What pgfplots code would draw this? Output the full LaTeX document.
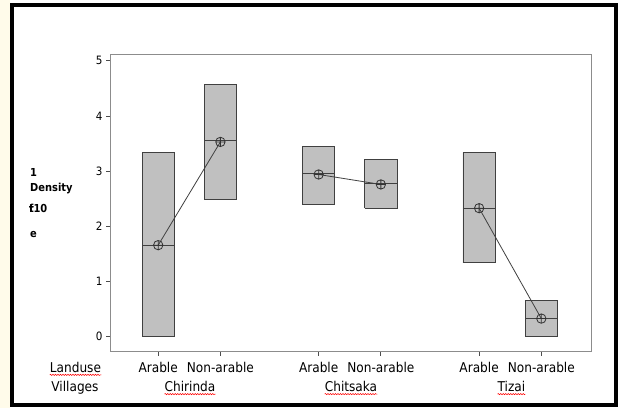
\documentclass[border=0pt]{standalone}
\usepackage{pgfplots}
\pgfplotsset{compat=1.18}
\usepackage{fontspec}
\setmainfont{DejaVu Sans Condensed}
\usetikzlibrary{decorations.pathmorphing}
\definecolor{boxfill}{RGB}{192,192,192}
\definecolor{boxedge}{RGB}{64,64,64}
\definecolor{axisgray}{RGB}{140,140,140}
\definecolor{strip}{RGB}{255,251,234}
\newcommand{\lab}{\fontsize{13.5}{16}\selectfont}
\newcommand{\ylab}{\bfseries\fontsize{11}{13}\selectfont}
\begin{document}
\begin{tikzpicture}[x=1pt,y=1pt]
\useasboundingbox (0,0) rectangle (620,408);
\fill[strip] (0,0) rectangle (10,408);
\fill[white] (10,0) rectangle (620,408);
\draw[line width=3.5pt] (12,3) rectangle (616,403);
\begin{axis}[
  at={(110pt,56.3pt)}, anchor=south west,
  width=481.7pt, height=297pt, scale only axis,
  xmin=-0.775, xmax=6.97, ymin=-0.27, ymax=5.11,
  axis line style={axisgray, line width=0.9pt},
  xtick pos=bottom, ytick pos=left,
  tick align=outside, major tick length=4pt,
  tick style={black!70, line width=0.8pt},
  ytick={0,1,2,3,4,5},
  xtick={0,1,2.58,3.58,5.16,6.16},
  xticklabels={Arable,Non-arable,Arable,Non-arable,Arable,Non-arable},
  xticklabel style={font=\lab, anchor=base, yshift=-16.6pt, inner sep=0pt},
  yticklabel style={font=\fontsize{11.5}{13}\selectfont},
  /pgf/number format/assume math mode=true,
  clip=false,
]
% boxes (lower, upper) per group
\addplot[fill=boxfill, draw=boxedge, line width=0.9pt] coordinates {(-0.26,0) (0.26,0) (0.26,3.34) (-0.26,3.34) (-0.26,0)};
\addplot[fill=boxfill, draw=boxedge, line width=0.9pt] coordinates {(0.74,2.49) (1.26,2.49) (1.26,4.57) (0.74,4.57) (0.74,2.49)};
\addplot[fill=boxfill, draw=boxedge, line width=0.9pt] coordinates {(2.32,2.40) (2.84,2.40) (2.84,3.45) (2.32,3.45) (2.32,2.40)};
\addplot[fill=boxfill, draw=boxedge, line width=0.9pt] coordinates {(3.32,2.33) (3.84,2.33) (3.84,3.21) (3.32,3.21) (3.32,2.33)};
\addplot[fill=boxfill, draw=boxedge, line width=0.9pt] coordinates {(4.90,1.34) (5.42,1.34) (5.42,3.34) (4.90,3.34) (4.90,1.34)};
\addplot[fill=boxfill, draw=boxedge, line width=0.9pt] coordinates {(5.90,0) (6.42,0) (6.42,0.66) (5.90,0.66) (5.90,0)};
% medians
\addplot[boxedge, line width=0.9pt] coordinates {(-0.26,1.66) (0.26,1.66)};
\addplot[boxedge, line width=0.9pt] coordinates {(0.74,3.55) (1.26,3.55)};
\addplot[boxedge, line width=0.9pt] coordinates {(2.32,2.95) (2.84,2.95)};
\addplot[boxedge, line width=0.9pt] coordinates {(3.32,2.77) (3.84,2.77)};
\addplot[boxedge, line width=0.9pt] coordinates {(4.90,2.33) (5.42,2.33)};
\addplot[boxedge, line width=0.9pt] coordinates {(5.90,0.33) (6.42,0.33)};
% means connected within village
\addplot[black!75, line width=0.8pt, mark=oplus, mark size=4.7pt, mark options={black!80, line width=0.8pt}] coordinates {(0,1.66) (1,3.53)};
\addplot[black!75, line width=0.8pt, mark=oplus, mark size=4.7pt, mark options={black!80, line width=0.8pt}] coordinates {(2.58,2.94) (3.58,2.76)};
\addplot[black!75, line width=0.8pt, mark=oplus, mark size=4.7pt, mark options={black!80, line width=0.8pt}] coordinates {(5.16,2.33) (6.16,0.33)};
\end{axis}
% row labels
\node[anchor=base, font=\lab, inner sep=0pt] (lu) at (75.5,35.7) {Landuse};
\node[anchor=base, font=\lab, inner sep=0pt] at (75,16.5) {Villages};
\node[anchor=base, font=\lab, inner sep=0pt] (v1) at (190,16.5) {Chirinda};
\node[anchor=base, font=\lab, inner sep=0pt] (v2) at (351,16.5) {Chitsaka};
\node[anchor=base, font=\lab, inner sep=0pt] (v3) at (511.5,16.5) {Tizai};
\foreach \n in {lu,v1,v2,v3}{
  \draw[red, line width=0.5pt, decorate, decoration={snake, amplitude=0.6pt, segment length=2.5pt}]
    ([yshift=-2.6pt]\n.base west) -- ([yshift=-2.6pt]\n.base east);
}
% y label (as in the original)
\node[anchor=base west, font=\ylab, inner sep=0pt] at (30,231.3) {1};
\node[anchor=base west, font=\ylab, inner sep=0pt] at (30,217) {Density};
\node[anchor=base west, font=\ylab, inner sep=0pt] at (29,196) {\rlap{t}f10};
\node[anchor=base west, font=\ylab, inner sep=0pt] at (30,171) {e};
\end{tikzpicture}
\end{document}
